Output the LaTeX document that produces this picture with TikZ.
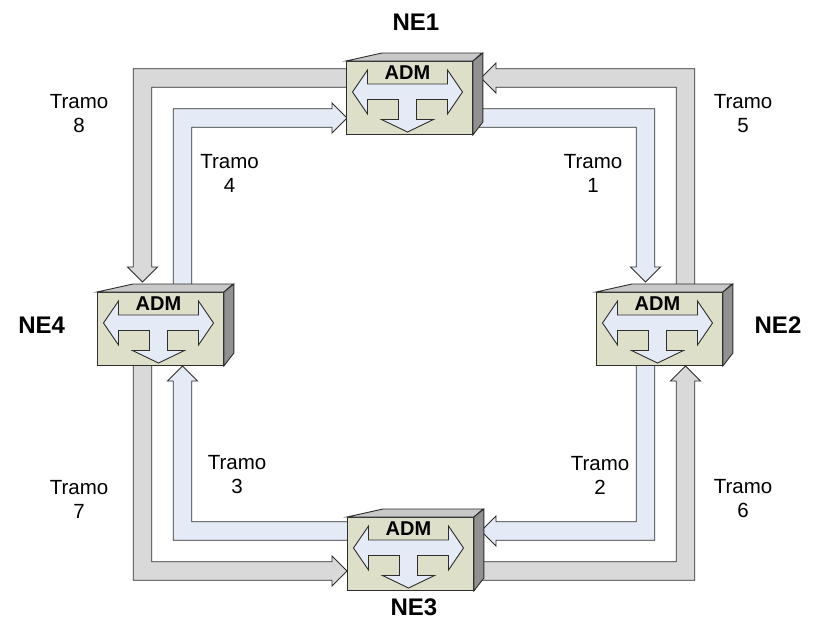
\documentclass[tikz,border=0pt]{standalone}
\usepackage{fontspec}
\setmainfont{Liberation Sans}
\usetikzlibrary{calc}
\definecolor{grayband}{RGB}{217,217,217}
\definecolor{blueband}{RGB}{228,235,247}
\definecolor{boxfront}{RGB}{221,223,200}
\definecolor{boxtop}{RGB}{200,200,200}
\definecolor{boxside}{RGB}{145,145,145}
\definecolor{edgecol}{RGB}{45,45,45}
\newcommand{\admbox}[2]{%
  \node[frontface] (#1) at #2 {};
  \draw[outl, fill=boxtop] (#1.north west) -- ++(36,-8) -- ++(100,0) -- (#1.north east) -- cycle;
  \draw[outl, fill=boxside] (#1.north east) -- ++(10,-8) -- ++(0,69) -- (#1.south east) -- cycle;
  \begin{scope}[shift={(#1.north west)}]
    \draw[outl, fill=blueband] (6.5,31) -- (21.5,9) -- (21.5,23) -- (101.5,23) -- (101.5,9) -- (116.5,31)
      -- (101.5,53) -- (101.5,38.5) -- (70.5,38.5) -- (70.5,58.5) -- (87.5,58.5) -- (61.5,71)
      -- (35.5,58.5) -- (52.5,58.5) -- (52.5,38.5) -- (21.5,38.5) -- (21.5,53) -- cycle;
    \node[admlbl] (#1adm) at (61.5,11.2) {ADM};
  \end{scope}
}
\begin{document}
\begin{tikzpicture}[x=1pt,y=-1pt,
  outl/.style={draw=edgecol, line width=0.9pt, line join=miter},
  grayarrow/.style={outl, fill=grayband},
  bluearrow/.style={outl, fill=blueband},
  frontface/.style={outl, fill=boxfront, rectangle, minimum width=126pt, minimum height=73pt, inner sep=0pt, anchor=north west},
  lbl/.style={font=\fontsize{20.5}{24}\selectfont, align=center, inner sep=0pt},
  nelbl/.style={font=\fontsize{24}{28}\bfseries\selectfont, inner sep=0pt},
  admlbl/.style={font=\fontsize{20}{24}\bfseries\selectfont, inner sep=0pt}]
\useasboundingbox (0,0) rectangle (813,627);

% Tramo 8 (gray): NE1 -> NE4
\draw[grayarrow] (350,68.75) -- (133.25,68.75) -- (133.25,267) -- (127.5,267) -- (142.5,282) -- (157.5,267) -- (151.75,267) -- (151.75,87.25) -- (350,87.25) -- cycle;
% Tramo 5 (gray): NE2 -> NE1
\draw[grayarrow] (676.25,290) -- (676.25,87.25) -- (496,87.25) -- (496,93) -- (481,78) -- (496,63) -- (496,68.75) -- (694.75,68.75) -- (694.75,290) -- cycle;
% Tramo 4 (blue): NE4 -> NE1
\draw[bluearrow] (173.25,290) -- (173.25,108.75) -- (332,108.75) -- (332,103) -- (347,118) -- (332,133) -- (332,127.25) -- (191.75,127.25) -- (191.75,290) -- cycle;
% Tramo 1 (blue): NE1 -> NE2
\draw[bluearrow] (476,108.75) -- (654.75,108.75) -- (654.75,267) -- (660.5,267) -- (645.5,282) -- (630.5,267) -- (636.25,267) -- (636.25,127.25) -- (476,127.25) -- cycle;
% Tramo 2 (blue): NE2 -> NE3
\draw[bluearrow] (636.25,360) -- (636.25,521.75) -- (496,521.75) -- (496,516) -- (481,531) -- (496,546) -- (496,540.25) -- (654.75,540.25) -- (654.75,360) -- cycle;
% Tramo 6 (gray): NE3 -> NE2
\draw[grayarrow] (478,561.75) -- (676.25,561.75) -- (676.25,381) -- (670.5,381) -- (685.5,366) -- (700.5,381) -- (694.75,381) -- (694.75,580.25) -- (478,580.25) -- cycle;
% Tramo 3 (blue): NE3 -> NE4
\draw[bluearrow] (351,521.75) -- (191.75,521.75) -- (191.75,381) -- (197.5,381) -- (182.5,366) -- (167.5,381) -- (173.25,381) -- (173.25,540.25) -- (351,540.25) -- cycle;
% Tramo 7 (gray): NE4 -> NE3
\draw[grayarrow] (133.25,361) -- (133.25,580.25) -- (332,580.25) -- (332,586) -- (347,571) -- (332,556) -- (332,561.75) -- (151.75,561.75) -- (151.75,361) -- cycle;

\admbox{ne1}{(346,61)}
\admbox{ne2}{(596,292)}
\admbox{ne3}{(347,517)}
\admbox{ne4}{(97,292)}

\node[nelbl] (l1) at (416,22.5) {NE1};
\node[nelbl] (l2) at (778,325) {NE2};
\node[nelbl] (l3) at (414,607) {NE3};
\node[nelbl] (l4) at (41.7,325) {NE4};

\node[lbl] (t8) at (79,113.3) {Tramo\\8};
\node[lbl] (t4) at (229.5,173) {Tramo\\4};
\node[lbl] (t1) at (593,173) {Tramo\\1};
\node[lbl] (t5) at (743,113.3) {Tramo\\5};
\node[lbl] (t3) at (237,475) {Tramo\\3};
\node[lbl] (t2) at (600,475) {Tramo\\2};
\node[lbl] (t7) at (79,499) {Tramo\\7};
\node[lbl] (t6) at (743,499) {Tramo\\6};
\end{tikzpicture}
\end{document}
